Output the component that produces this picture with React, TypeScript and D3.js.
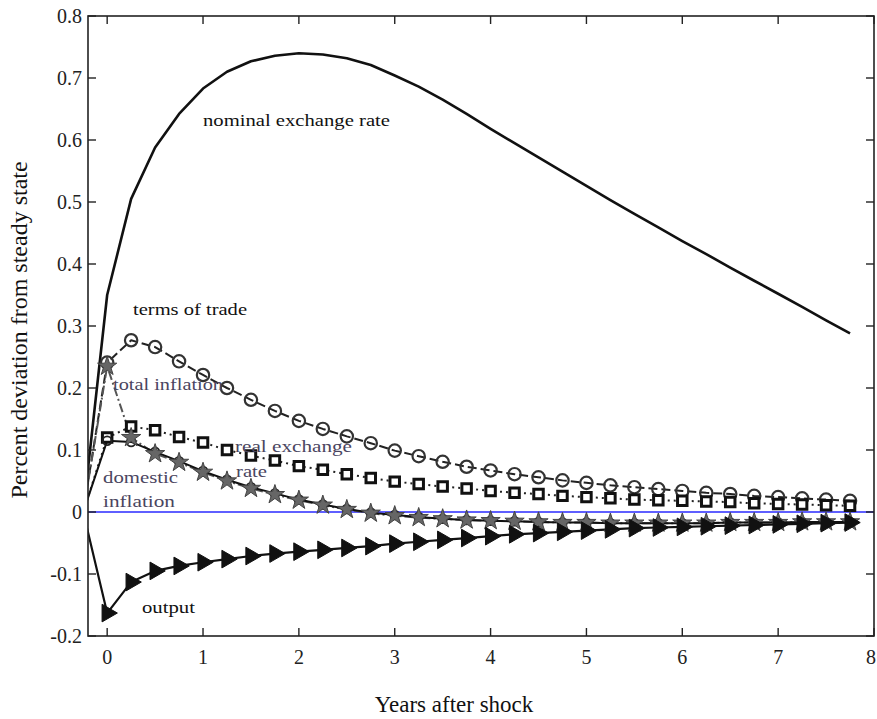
import React from "react";
import * as d3 from "d3";

const years = [-0.25, 0, 0.25, 0.5, 0.75, 1, 1.25, 1.5, 1.75, 2, 2.25, 2.5, 2.75, 3, 3.25, 3.5, 3.75, 4, 4.25, 4.5, 4.75, 5, 5.25, 5.5, 5.75, 6, 6.25, 6.5, 6.75, 7, 7.25, 7.5, 7.75];

const nominalExchangeRate = [0, 0.35, 0.505, 0.588, 0.642, 0.683, 0.71, 0.727, 0.736, 0.74, 0.738, 0.732, 0.721, 0.704, 0.686, 0.665, 0.642, 0.618, 0.595, 0.572, 0.549, 0.526, 0.503, 0.481, 0.459, 0.437, 0.416, 0.394, 0.373, 0.352, 0.331, 0.309, 0.288];
const termsOfTrade = [0, 0.241, 0.277, 0.266, 0.243, 0.221, 0.2, 0.181, 0.163, 0.147, 0.134, 0.122, 0.111, 0.099, 0.09, 0.081, 0.073, 0.067, 0.061, 0.056, 0.051, 0.047, 0.043, 0.04, 0.037, 0.034, 0.031, 0.029, 0.026, 0.024, 0.022, 0.02, 0.018];
const realExchangeRate = [0, 0.12, 0.138, 0.132, 0.121, 0.112, 0.1, 0.091, 0.083, 0.074, 0.068, 0.061, 0.055, 0.049, 0.045, 0.041, 0.038, 0.034, 0.031, 0.029, 0.026, 0.024, 0.022, 0.02, 0.019, 0.018, 0.017, 0.016, 0.014, 0.013, 0.012, 0.011, 0.01];
const totalInflation = [0, 0.235, 0.12, 0.094, 0.08, 0.064, 0.05, 0.038, 0.028, 0.019, 0.011, 0.004, -0.002, -0.006, -0.009, -0.011, -0.013, -0.014, -0.015, -0.016, -0.017, -0.017, -0.018, -0.018, -0.018, -0.018, -0.018, -0.017, -0.017, -0.017, -0.016, -0.016, -0.016];
const domesticInflation = [0, 0.115, 0.113, 0.097, 0.082, 0.066, 0.052, 0.04, 0.03, 0.02, 0.012, 0.005, -0.001, -0.005, -0.008, -0.011, -0.013, -0.014, -0.015, -0.016, -0.017, -0.017, -0.018, -0.018, -0.018, -0.018, -0.018, -0.017, -0.017, -0.017, -0.016, -0.016, -0.016];
const output = [0, -0.163, -0.113, -0.095, -0.087, -0.081, -0.076, -0.071, -0.067, -0.064, -0.061, -0.058, -0.055, -0.051, -0.048, -0.045, -0.042, -0.039, -0.036, -0.034, -0.032, -0.03, -0.028, -0.026, -0.025, -0.024, -0.023, -0.022, -0.021, -0.02, -0.019, -0.018, -0.017];

const xTicks = [0, 1, 2, 3, 4, 5, 6, 7, 8];
const yTicks = [0.8, 0.7, 0.6, 0.5, 0.4, 0.3, 0.2, 0.1, 0, -0.1, -0.2];
const yTickLabels = ["0.8", "0.7", "0.6", "0.5", "0.4", "0.3", "0.2", "0.1", "0", "-0.1", "-0.2"];

const W = 877;
const H = 719;
const L = 88, R = 874, T = 16, B = 636;

export default function App() {
  const x = d3.scaleLinear().domain([-0.2, 8]).range([L, R]);
  const y = d3.scaleLinear().domain([-0.2, 0.8]).range([B, T]);
  const line = (vals: number[]) =>
    d3.line<number>().x((_, i) => x(years[i])).y((v) => y(v))(vals) || "";

  const pts = (vals: number[]) =>
    vals.map((v, i) => ({ t: years[i], v })).filter((p) => p.t >= 0);

  const circle = d3.symbol().type(d3.symbolCircle).size(120)() || "";
  const smallCircle = d3.symbol().type(d3.symbolCircle).size(60)() || "";
  const square = d3.symbol().type(d3.symbolSquare).size(90)() || "";
  const star = d3.symbol().type(d3.symbolStar).size(115)() || "";
  const tri = d3.symbol().type(d3.symbolTriangle).size(135)() || "";

  const serif = "'Liberation Serif', 'Times New Roman', serif";
  const labelColor = "#4a4560";

  return (
    <svg width={W} height={H} style={{ position: "absolute", left: 0, top: 0, background: "#fff" }}>
      <defs>
        <clipPath id="plotClip">
          <rect x={L} y={T} width={R - L} height={B - T} />
        </clipPath>
      </defs>
      <rect x={0} y={0} width={W} height={H} fill="#fff" />

      {/* zero line */}
      <line x1={L} x2={R} y1={y(0)} y2={y(0)} stroke="#2a2aff" strokeWidth={1.6} />

      <g clipPath="url(#plotClip)" fill="none" strokeLinejoin="round">
        <path d={line(nominalExchangeRate)} stroke="#111" strokeWidth={2.6} />
        <path d={line(termsOfTrade)} stroke="#222" strokeWidth={2} strokeDasharray="9,4" />
        <path d={line(realExchangeRate)} stroke="#222" strokeWidth={2} strokeDasharray="2,4" />
        <path d={line(totalInflation)} stroke="#555" strokeWidth={2} strokeDasharray="9,3,2,3" />
        <path d={line(domesticInflation)} stroke="#111" strokeWidth={2} />
        <path d={line(output)} stroke="#111" strokeWidth={2.2} />
      </g>

      {/* markers */}
      <g>
        {pts(termsOfTrade).map((p, i) => (
          <path key={"c" + i} d={circle} transform={`translate(${x(p.t)},${y(p.v)})`} fill="none" stroke="#333" strokeWidth={2.2} />
        ))}
        {pts(realExchangeRate).map((p, i) => (
          <path key={"s" + i} d={square} transform={`translate(${x(p.t)},${y(p.v)})`} fill="#fff" stroke="#111" strokeWidth={3} />
        ))}
        {pts(domesticInflation).map((p, i) => (
          <path key={"d" + i} d={smallCircle} transform={`translate(${x(p.t)},${y(p.v)})`} fill="none" stroke="#222" strokeWidth={1.8} />
        ))}
        {pts(totalInflation).map((p, i) => (
          <path key={"t" + i} d={star} transform={`translate(${x(p.t)},${y(p.v)})`} fill="#666" stroke="#444" strokeWidth={1} />
        ))}
        {pts(output).map((p, i) => (
          <path key={"o" + i} d={tri} transform={`translate(${x(p.t)},${y(p.v)}) rotate(90)`} fill="#111" stroke="#111" strokeWidth={1} />
        ))}
      </g>

      {/* frame */}
      <rect x={L} y={T} width={R - L} height={B - T} fill="none" stroke="#222" strokeWidth={1.6} />
      {xTicks.map((t) => (
        <g key={"xt" + t}>
          <line x1={x(t)} x2={x(t)} y1={B} y2={B - 8} stroke="#222" strokeWidth={1.4} />
          <line x1={x(t)} x2={x(t)} y1={T} y2={T + 8} stroke="#222" strokeWidth={1.4} />
          <text x={t === 8 ? W - 1 : x(t)} y={664} textAnchor={t === 8 ? "end" : "middle"} fontFamily={serif} fontSize={20} fill="#222">{t}</text>
        </g>
      ))}
      {yTicks.map((t, i) => (
        <g key={"yt" + i}>
          <line x1={L} x2={L + 8} y1={y(t)} y2={y(t)} stroke="#222" strokeWidth={1.4} />
          <line x1={R} x2={R - 8} y1={y(t)} y2={y(t)} stroke="#222" strokeWidth={1.4} />
          <text x={82} y={y(t)} dy="0.35em" textAnchor="end" fontFamily={serif} fontSize={20} fill="#222">{yTickLabels[i]}</text>
        </g>
      ))}

      {/* axis titles */}
      <text x={454} y={712} textAnchor="middle" fontFamily={serif} fontSize={23} fill="#111">Years after shock</text>
      <text transform="translate(27,330) rotate(-90)" textAnchor="middle" fontFamily={serif} fontSize={24} fill="#111">Percent deviation from steady state</text>

      {/* curve labels */}
      <g fontFamily={serif} fontSize={17}>
        <text x={203} y={126} fill="#111" textLength={187} lengthAdjust="spacingAndGlyphs">nominal exchange rate</text>
        <text x={133} y={315} fill="#111" textLength={114} lengthAdjust="spacingAndGlyphs">terms of trade</text>
        <text x={113} y={390} fill={labelColor} textLength={110} lengthAdjust="spacingAndGlyphs">total inflation</text>
        <text x={235} y={452} fill={labelColor} textLength={117} lengthAdjust="spacingAndGlyphs">real exchange</text>
        <text x={236} y={477} fill={labelColor} textLength={31} lengthAdjust="spacingAndGlyphs">rate</text>
        <text x={103} y={483} fill={labelColor} textLength={75} lengthAdjust="spacingAndGlyphs">domestic</text>
        <text x={103} y={507} fill={labelColor} textLength={72} lengthAdjust="spacingAndGlyphs">inflation</text>
        <text x={142} y={613} fill="#111" textLength={53} lengthAdjust="spacingAndGlyphs">output</text>
      </g>
    </svg>
  );
}
